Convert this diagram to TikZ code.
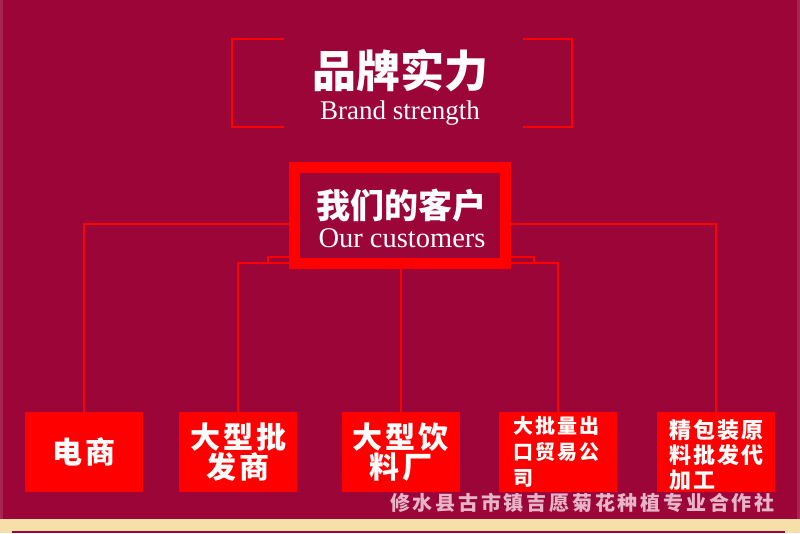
\documentclass[tikz,border=0pt]{standalone}
\usepackage{fontspec}
\setmainfont{Liberation Serif}
\newfontfamily\cjk{Noto Sans CJK SC}
\newfontfamily\cjkwide{Noto Sans CJK SC}[LetterSpace=10]
\newfontfamily\cjkfoot{Noto Sans CJK SC}[LetterSpace=14]
\usetikzlibrary{backgrounds}
\definecolor{Wine}{HTML}{9C0538}
\definecolor{WineEdge}{HTML}{A82450}
\definecolor{Scarlet}{HTML}{FF0000}
\definecolor{Sand}{HTML}{F6DFA8}
\definecolor{Blush}{HTML}{E6B6C8}

\begin{document}
\begin{tikzpicture}[x=1pt, y=-1pt,
  bracket/.style={draw=Scarlet, line width=2pt},
  link/.style={draw=Scarlet, line width=2pt},
  client/.style={fill=Scarlet, minimum width=118pt, minimum height=80pt, inner sep=0pt, text=white},
  cn/.style={text=white, font=\cjk\bfseries\fontsize{#1}{#1}\selectfont, inner sep=0pt},
  en/.style={text=white, font=\fontsize{#1}{#1}\selectfont, inner sep=0pt, anchor=base},
  boxfont/.style 2 args={font=\cjkwide\bfseries\fontsize{#1}{#2}\selectfont},
]
\useasboundingbox (0,0) rectangle (800,533);

% title
\draw[bracket] (284,39) -- (232,39) -- (232,127) -- (284,127);
\draw[bracket] (523,39) -- (572,39) -- (572,127) -- (523,127);
\node[cn=44] (title) at (400,71) {品牌实力};
\node[en=27] (subtitle) at (400,119) {Brand strength};

% hub
\node[draw=Scarlet, line width=11pt, fill=Wine, minimum width=211pt, minimum height=96pt, inner sep=0pt] (hub) at (400,215.5) {};
\node[cn=34] (hubcn) at (401,205) {我们的客户};
\node[en=28.5] (huben) at (402,247) {Our customers};

% clients
\node[client, boxfont={30}{30}] (c1) at (84,452) {电商\hspace{-3pt}};
\node[client, boxfont={30}{30}, align=center] (c2) at (238,452) {大型批\\发商};
\node[client, boxfont={30}{30}, align=center] (c3) at (400.5,452) {大型饮\\料厂};
\node[client, boxfont={20}{26}, align=left, text width=90pt] (c4) at (558,452) {大批量出\\口贸易公\\司};
\node[client, boxfont={22}{25}, align=left, text width=94pt] (c5) at (716,452) {\hspace{4pt}精包装原\\料批发代\\加工};

\node[text=Blush, font=\cjkfoot\bfseries\fontsize{20}{20}\selectfont, inner sep=0pt, anchor=east] (maker) at (775,503) {修水县古市镇吉愿菊花种植专业合作社};

\begin{scope}[on background layer]
  \fill[Wine] (0,0) rectangle (800,533);
  \fill[WineEdge] (0,0) rectangle (3,519);
  \fill[WineEdge] (797,0) rectangle (800,519);
  \fill[Sand] (0,519) rectangle (800,533);
  \fill[Wine] (12,530.5) rectangle (785,533);
  \coordinate (outerbar) at (400,224);
  \coordinate (innerbar) at (400,263);
  \coordinate (stepL) at (268,257);
  \coordinate (stepR) at (534,263);
  \draw[link] (c1.north) |- (outerbar) -| (c5.north);
  \draw[link] (c2.north) |- (innerbar) -| (c4.north);
  \draw[link] (c3.north) -- (c3.north |- hub.south);
  \draw[link] (stepL) rectangle (stepR);
\end{scope}
\end{tikzpicture}
\end{document}
